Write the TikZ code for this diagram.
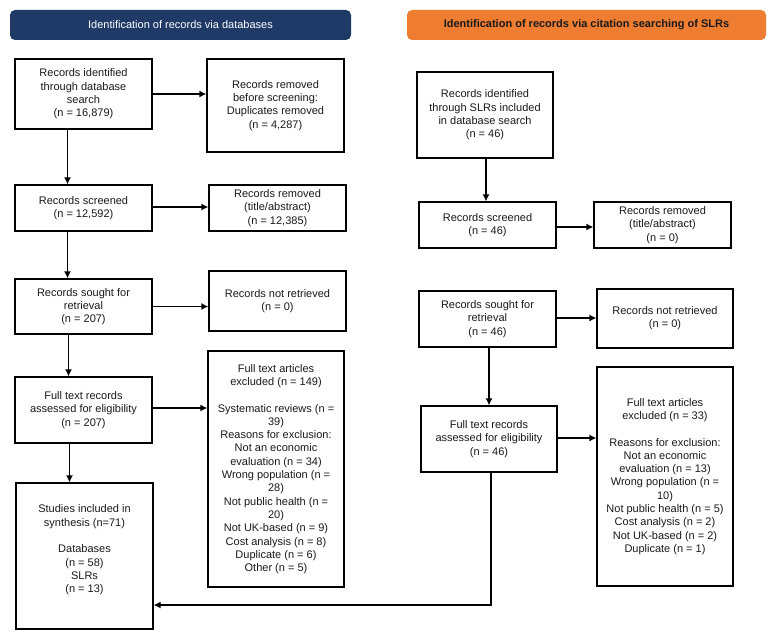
\documentclass[tikz,border=0pt]{standalone}
\usepackage{fontspec}
\setmainfont{Liberation Sans}
\usetikzlibrary{arrows.meta,calc}
\definecolor{navy}{HTML}{1F3A66}
\definecolor{orangehdr}{HTML}{EE7D31}
\definecolor{txt}{HTML}{1A1A1A}
\begin{document}
\begin{tikzpicture}[x=1pt,y=-1pt,
  box/.style={draw=black, line width=1.3pt, align=center, inner sep=0pt,
    font=\fontsize{11}{13.3}\selectfont, text=txt},
  sz/.style 2 args={minimum width=#1pt, minimum height=#2pt},
  hdr/.style={rounded corners=5pt, inner sep=0pt, minimum height=30pt,
    font=\fontsize{11}{13.3}\selectfont},
  arr/.style={line width=1.3pt, -{Latex[length=7pt,width=7pt]}},
  ln/.style={line width=1.3pt}]
\fill[white] (0,0) rectangle (778,639);
\useasboundingbox (0,0) rectangle (778,639);

% headers
\node[hdr, fill=navy, text=white, minimum width=341pt] (H1) at (180.5,25)
  {Identification of records via databases};
\node[hdr, fill=orangehdr, text=txt, minimum width=359pt, font=\fontsize{11}{13.3}\selectfont\bfseries] (H2) at (586.5,25)
  {Identification of records via citation searching of SLRs};

% left column
\node[box, sz={137}{70}] (B1) at (83.5,94)
  {Records identified\\through database\\search\\(n = 16,879)};
\node[box, sz={137}{93}] (B2) at (275.5,105.5)
  {Records removed\\before screening:\\Duplicates removed\\(n = 4,287)};
\node[box, sz={137}{46}] (B3) at (83.5,208)
  {Records screened\\(n = 12,592)};
\node[box, sz={137}{46}] (B4) at (277.5,208)
  {Records removed\\(title/abstract)\\(n = 12,385)};
\node[box, sz={137}{55}] (B5) at (83.5,306.5)
  {Records sought for\\retrieval\\(n = 207)};
\node[box, sz={137}{60}] (B6) at (277.5,301)
  {Records not retrieved\\(n = 0)};
\node[box, sz={137}{66}] (B7) at (83.5,410)
  {Full text records\\assessed for eligibility\\(n = 207)};
\node[box, sz={136}{236}] (B8) at (276,469)
  {Full text articles\\excluded (n = 149)\\[13.3pt]Systematic reviews (n =\\39)\\Reasons for exclusion:\\Not an economic\\evaluation (n = 34)\\Wrong population (n =\\28)\\Not public health (n =\\20)\\Not UK-based (n = 9)\\Cost analysis (n = 8)\\Duplicate (n = 6)\\Other (n = 5)};
\node[box, sz={137}{146}] (B9) at (84.5,556) {};
\node[align=center, inner sep=0pt, font=\fontsize{11}{13.3}\selectfont, text=txt] (B9t) at (84.5,550)
  {Studies included in\\synthesis (n=71)\\[13.3pt]Databases\\(n = 58)\\SLRs\\(n = 13)};

% right column
\node[box, sz={136}{86}] (R1) at (485,115)
  {Records identified\\through SLRs included\\in database search\\(n = 46)};
\node[box, sz={137}{46}] (R2) at (487.5,225)
  {Records screened\\(n = 46)};
\node[box, sz={137}{46}] (R3) at (662.5,225)
  {Records removed\\(title/abstract)\\(n = 0)};
\node[box, sz={137}{56}] (R4) at (487.5,319)
  {Records sought for\\retrieval\\(n = 46)};
\node[box, sz={136}{59}] (R5) at (665,318.5)
  {Records not retrieved\\(n = 0)};
\node[box, sz={136}{66}] (R6) at (489,439)
  {Full text records\\assessed for eligibility\\(n = 46)};
\node[box, sz={136}{219}] (R7) at (665,476.5)
  {Full text articles\\excluded (n = 33)\\[13.3pt]Reasons for exclusion:\\Not an economic\\evaluation (n = 13)\\Wrong population (n =\\10)\\Not public health (n = 5)\\Cost analysis (n = 2)\\Not UK-based (n = 2)\\Duplicate (n = 1)};

% left arrows
\draw[arr] ($(B1.south)+(-16,0)$) -- ($(B3.north)+(-16,0)$);
\draw[arr] ($(B3.south)+(-16,0)$) -- ($(B5.north)+(-16,0)$);
\draw[arr] ($(B5.south)+(-15,0)$) -- ($(B7.north)+(-15,0)$);
\draw[arr] ($(B7.south)+(-14,0)$) -- ($(B9.north)+(-15,0)$);
\draw[arr] (B1.east) -- (B1.east -| B2.west);
\draw[arr] ($(B3.east)+(0,-1)$) -- ($(B3.east -| B4.west)+(0,-1)$);
\draw[arr] (B5.east) -- (B5.east -| B6.west);
\draw[arr] ($(B7.east)+(0,-2)$) -- ($(B7.east -| B8.west)+(0,-2)$);

% right arrows
\draw[arr] ($(R1.south)+(1,0)$) -- ($(R2.north)+(-1.5,0)$);
\draw[arr] ($(R2.east)+(0,2)$) -- ($(R2.east -| R3.west)+(0,2)$);
\draw[arr] ($(R4.south)+(1.5,0)$) -- (R6.north);
\draw[arr] ($(R4.east)+(0,-1)$) -- ($(R4.east -| R5.west)+(0,-1)$);
\draw[arr] ($(R6.east)+(0,-1)$) -- ($(R6.east -| R7.west)+(0,-1)$);
\coordinate (J) at ($(B9.east)+(0,49)$);
\draw[arr] ($(R6.south)+(2,0)$) |- (J);
\end{tikzpicture}
\end{document}
